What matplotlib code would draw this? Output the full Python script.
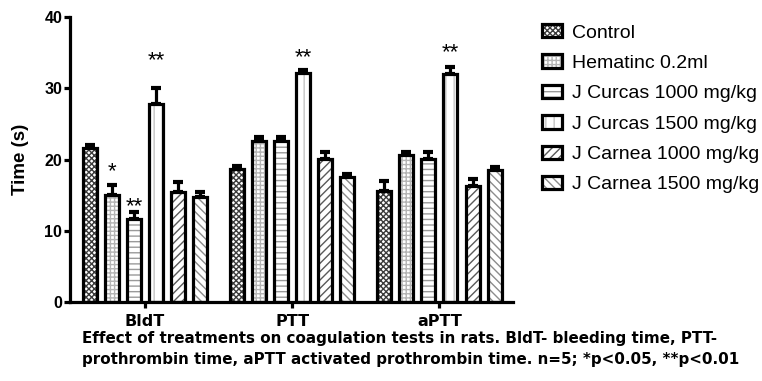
import matplotlib
matplotlib.use("Agg")
import matplotlib.pyplot as plt
import numpy as np
from matplotlib.legend_handler import HandlerTuple

plt.rcParams['font.family'] = ['Liberation Sans', 'DejaVu Sans']
plt.rcParams['hatch.linewidth'] = 1.0

# ---- data ----
groups = ["BldT", "PTT", "aPTT"]
series = ["Control", "Hematinc 0.2ml", "J Curcas 1000 mg/kg",
          "J Curcas 1500 mg/kg", "J Carnea 1000 mg/kg", "J Carnea 1500 mg/kg"]
control = [21.6, 18.7, 15.6]
hematinc = [15.0, 22.6, 20.6]
jcurcas1000 = [11.6, 22.6, 20.1]
jcurcas1500 = [27.8, 32.1, 32.0]
jcarnea1000 = [15.4, 20.1, 16.3]
jcarnea1500 = [14.7, 17.5, 18.5]
err_control = [0.5, 0.4, 1.4]
err_hematinc = [1.4, 0.5, 0.5]
err_jcurcas1000 = [1.0, 0.5, 1.0]
err_jcurcas1500 = [2.2, 0.5, 1.0]
err_jcarnea1000 = [1.4, 1.0, 1.0]
err_jcarnea1500 = [0.7, 0.5, 0.5]
# significance marks: (group index, series index, text, y)
stars = [(0, 1, "*", 18.3), (0, 2, "**", 13.4), (0, 3, "**", 33.8),
         (1, 3, "**", 34.3), (2, 3, "**", 35.0)]
caption = ["Effect of treatments on coagulation tests in rats. BldT- bleeding time, PTT-",
           "prothrombin time, aPTT activated prothrombin time. n=5; *p<0.05, **p<0.01"]

values = [control, hematinc, jcurcas1000, jcurcas1500, jcarnea1000, jcarnea1500]
errors = [err_control, err_hematinc, err_jcurcas1000, err_jcurcas1500,
          err_jcarnea1000, err_jcarnea1500]

hatches = ['xxxxxx', '++++', '---', '||', '////', '\\\\\\\\']
hatch_colors = ['#3c3c3c', '#b4b4b4', '#9a9a9a', '#c4c4c4', '#5a5a5a', '#8c8c8c']

fig = plt.figure(figsize=(7.62, 3.81), dpi=100)
ax = fig.add_axes([70/762, 1-302/381, (513-70)/762, (302-17)/381])

x = np.arange(len(groups))
step = 0.15
width = 0.095
lw = 2.3
handles = []
for k, (vals, errs) in enumerate(zip(values, errors)):
    xs = x + (k - 2.5) * step
    ax.errorbar(xs, vals, yerr=[np.zeros(len(vals)), errs], fmt='none',
                ecolor='black', elinewidth=lw, capsize=3.6, capthick=3.0, zorder=1)
    b1 = ax.bar(xs, vals, width, facecolor='white', edgecolor=hatch_colors[k],
                hatch=hatches[k], linewidth=0, zorder=2)
    b2 = ax.bar(xs, vals, width, fill=False, edgecolor='black', linewidth=lw, zorder=3)
    handles.append((b1.patches[0], b2.patches[0]))

for gi, si, txt, yv in stars:
    ax.text(x[gi] + (si - 2.5) * step, yv, txt, ha='center', va='center',
            fontsize=16, fontweight='normal')

ax.set_xlim(-0.51, 2.5)
ax.set_ylim(0, 40)
ax.set_yticks([0, 10, 20, 30, 40])
ax.set_xticks(x)
ax.set_xticklabels(groups, fontfamily='DejaVu Sans', fontweight='bold', fontsize=11.5)
for s in ['top', 'right']:
    ax.spines[s].set_visible(False)
for s in ['left', 'bottom']:
    ax.spines[s].set_linewidth(lw)
ax.tick_params(axis='y', length=4.5, width=lw, pad=1, labelsize=11.5)
ax.tick_params(axis='x', length=4.5, width=lw, pad=4)
for lab in ax.get_yticklabels():
    lab.set_fontweight('bold')
ax.set_ylabel("Time (s)", fontsize=13.5, fontweight='bold', labelpad=11)

leg = fig.legend(handles, series, handler_map={tuple: HandlerTuple(ndivide=1)},
                 loc='upper left', bbox_to_anchor=(541.5/762, 1-24/381),
                 frameon=False, fontsize=14, handlelength=1.04, handleheight=0.69,
                 handletextpad=0.54, labelspacing=0.66, borderpad=0, borderaxespad=0)

fig.text(82/762, 1-343/381, caption[0], fontsize=10.9, fontweight='bold',
         fontfamily='DejaVu Sans', ha='left', va='baseline')
fig.text(82/762, 1-364/381, caption[1], fontsize=10.9, fontweight='bold',
         fontfamily='DejaVu Sans', ha='left', va='baseline')

fig.savefig("out.png", dpi=100)
